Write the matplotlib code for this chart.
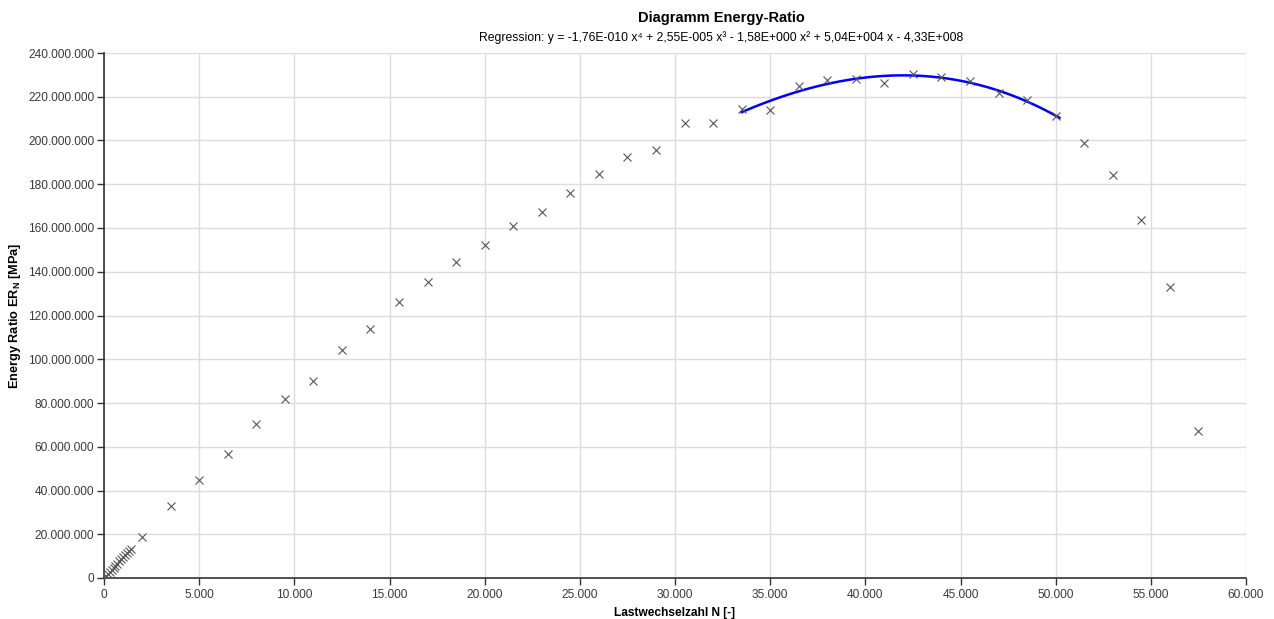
import matplotlib.pyplot as plt
import numpy as np
from matplotlib.ticker import FuncFormatter, MultipleLocator

plt.rcParams['font.family'] = ['Liberation Sans', 'DejaVu Sans']
plt.rcParams['mathtext.fontset'] = 'custom'
plt.rcParams['mathtext.bf'] = 'Liberation Sans:bold'
plt.rcParams['mathtext.rm'] = 'Liberation Sans'

# Lastwechselzahl N und Energy Ratio ER_N
cycles = [0, 100, 200, 300, 400, 500, 600, 700, 800, 900, 1000, 1100, 1200, 1300, 1400,
          2000, 3500, 5000, 6500, 8000, 9500, 11000, 12500, 14000, 15500, 17000, 18500,
          20000, 21500, 23000, 24500, 26000, 27500, 29000, 30500, 32000, 33500, 35000,
          36500, 38000, 39500, 41000, 42500, 44000, 45500, 47000, 48500, 50000, 51500,
          53000, 54500, 56000, 57500]
energy_ratio = [0.0, 0.9e6, 1.9e6, 2.8e6, 3.8e6, 4.7e6, 5.7e6, 6.6e6, 7.6e6, 8.5e6, 9.5e6,
                10.4e6, 11.3e6, 12.3e6, 13.3e6,
                18.6e6, 32.8e6, 44.6e6, 56.6e6, 70.6e6, 82.0e6, 90.2e6, 104.2e6, 113.8e6,
                126.0e6, 135.3e6, 144.5e6, 152.0e6, 161.0e6, 167.5e6, 176.0e6, 184.5e6,
                192.5e6, 195.7e6, 207.8e6, 207.8e6, 214.4e6, 213.9e6, 225.0e6, 227.8e6,
                228.3e6, 226.3e6, 230.6e6, 229.2e6, 227.2e6, 221.7e6, 218.4e6, 211.2e6,
                198.8e6, 184.2e6, 163.7e6, 133.2e6, 67.4e6]

# Bereich der Regression (Polynom 4. Grades)
reg_start, reg_end = 33500, 50000

x = np.array(cycles, dtype=float)
y = np.array(energy_ratio)
mask = (x >= reg_start) & (x <= reg_end)
xm = x[mask].mean()
coef = np.polyfit(x[mask] - xm, y[mask], 4)
x_fit = np.linspace(reg_start, reg_end + 200, 200)
y_fit = np.polyval(coef, x_fit - xm)

fig = plt.figure(figsize=(12.74, 6.19), dpi=100)
ax = fig.add_axes([104 / 1274, 41 / 619, 1142 / 1274, 525 / 619])

ax.plot(x_fit, y_fit, color='#0000ff', lw=1.8, zorder=3)
ax.plot(x, y, ls='none', marker='x', ms=6, mew=0.8, color='#555555', zorder=4)

ax.set_xlim(0, 60000)
ax.set_ylim(0, 240e6)
ax.xaxis.set_major_locator(MultipleLocator(5000))
ax.yaxis.set_major_locator(MultipleLocator(20e6))
fmt = FuncFormatter(lambda v, p: f"{int(round(v)):,}".replace(',', '.'))
ax.xaxis.set_major_formatter(fmt)
ax.yaxis.set_major_formatter(fmt)

ax.grid(True, color='#dcdcdc', lw=1)
ax.set_axisbelow(True)
for s in ['top', 'right']:
    ax.spines[s].set_visible(False)
for s in ['left', 'bottom']:
    ax.spines[s].set_color('#333333')
    ax.spines[s].set_linewidth(1.2)
ax.tick_params(direction='out', length=5, width=1, color='#333333',
               labelsize=8.6, labelcolor='#3a3a3a')
ax.tick_params(axis='y', pad=2)
ax.tick_params(axis='x', pad=3)

ax.set_xlabel('Lastwechselzahl N [-]', fontsize=8.6, fontweight='bold', labelpad=4)
ax.set_ylabel(r'Energy Ratio ER$_{\mathbf{N}}$ [MPa]', fontsize=9.2,
              fontweight='bold', labelpad=4)

fig.text(0.566, 0.971, 'Diagramm Energy-Ratio', ha='center', va='center',
         fontsize=10.5, fontweight='bold')
fig.text(0.566, 0.940,
         'Regression: y = -1,76E-010 x\u2074 + 2,55E-005 x\u00b3 - 1,58E+000 x\u00b2 '
         '+ 5,04E+004 x - 4,33E+008',
         ha='center', va='center', fontsize=8.8)

fig.savefig('out.png', dpi=100)
